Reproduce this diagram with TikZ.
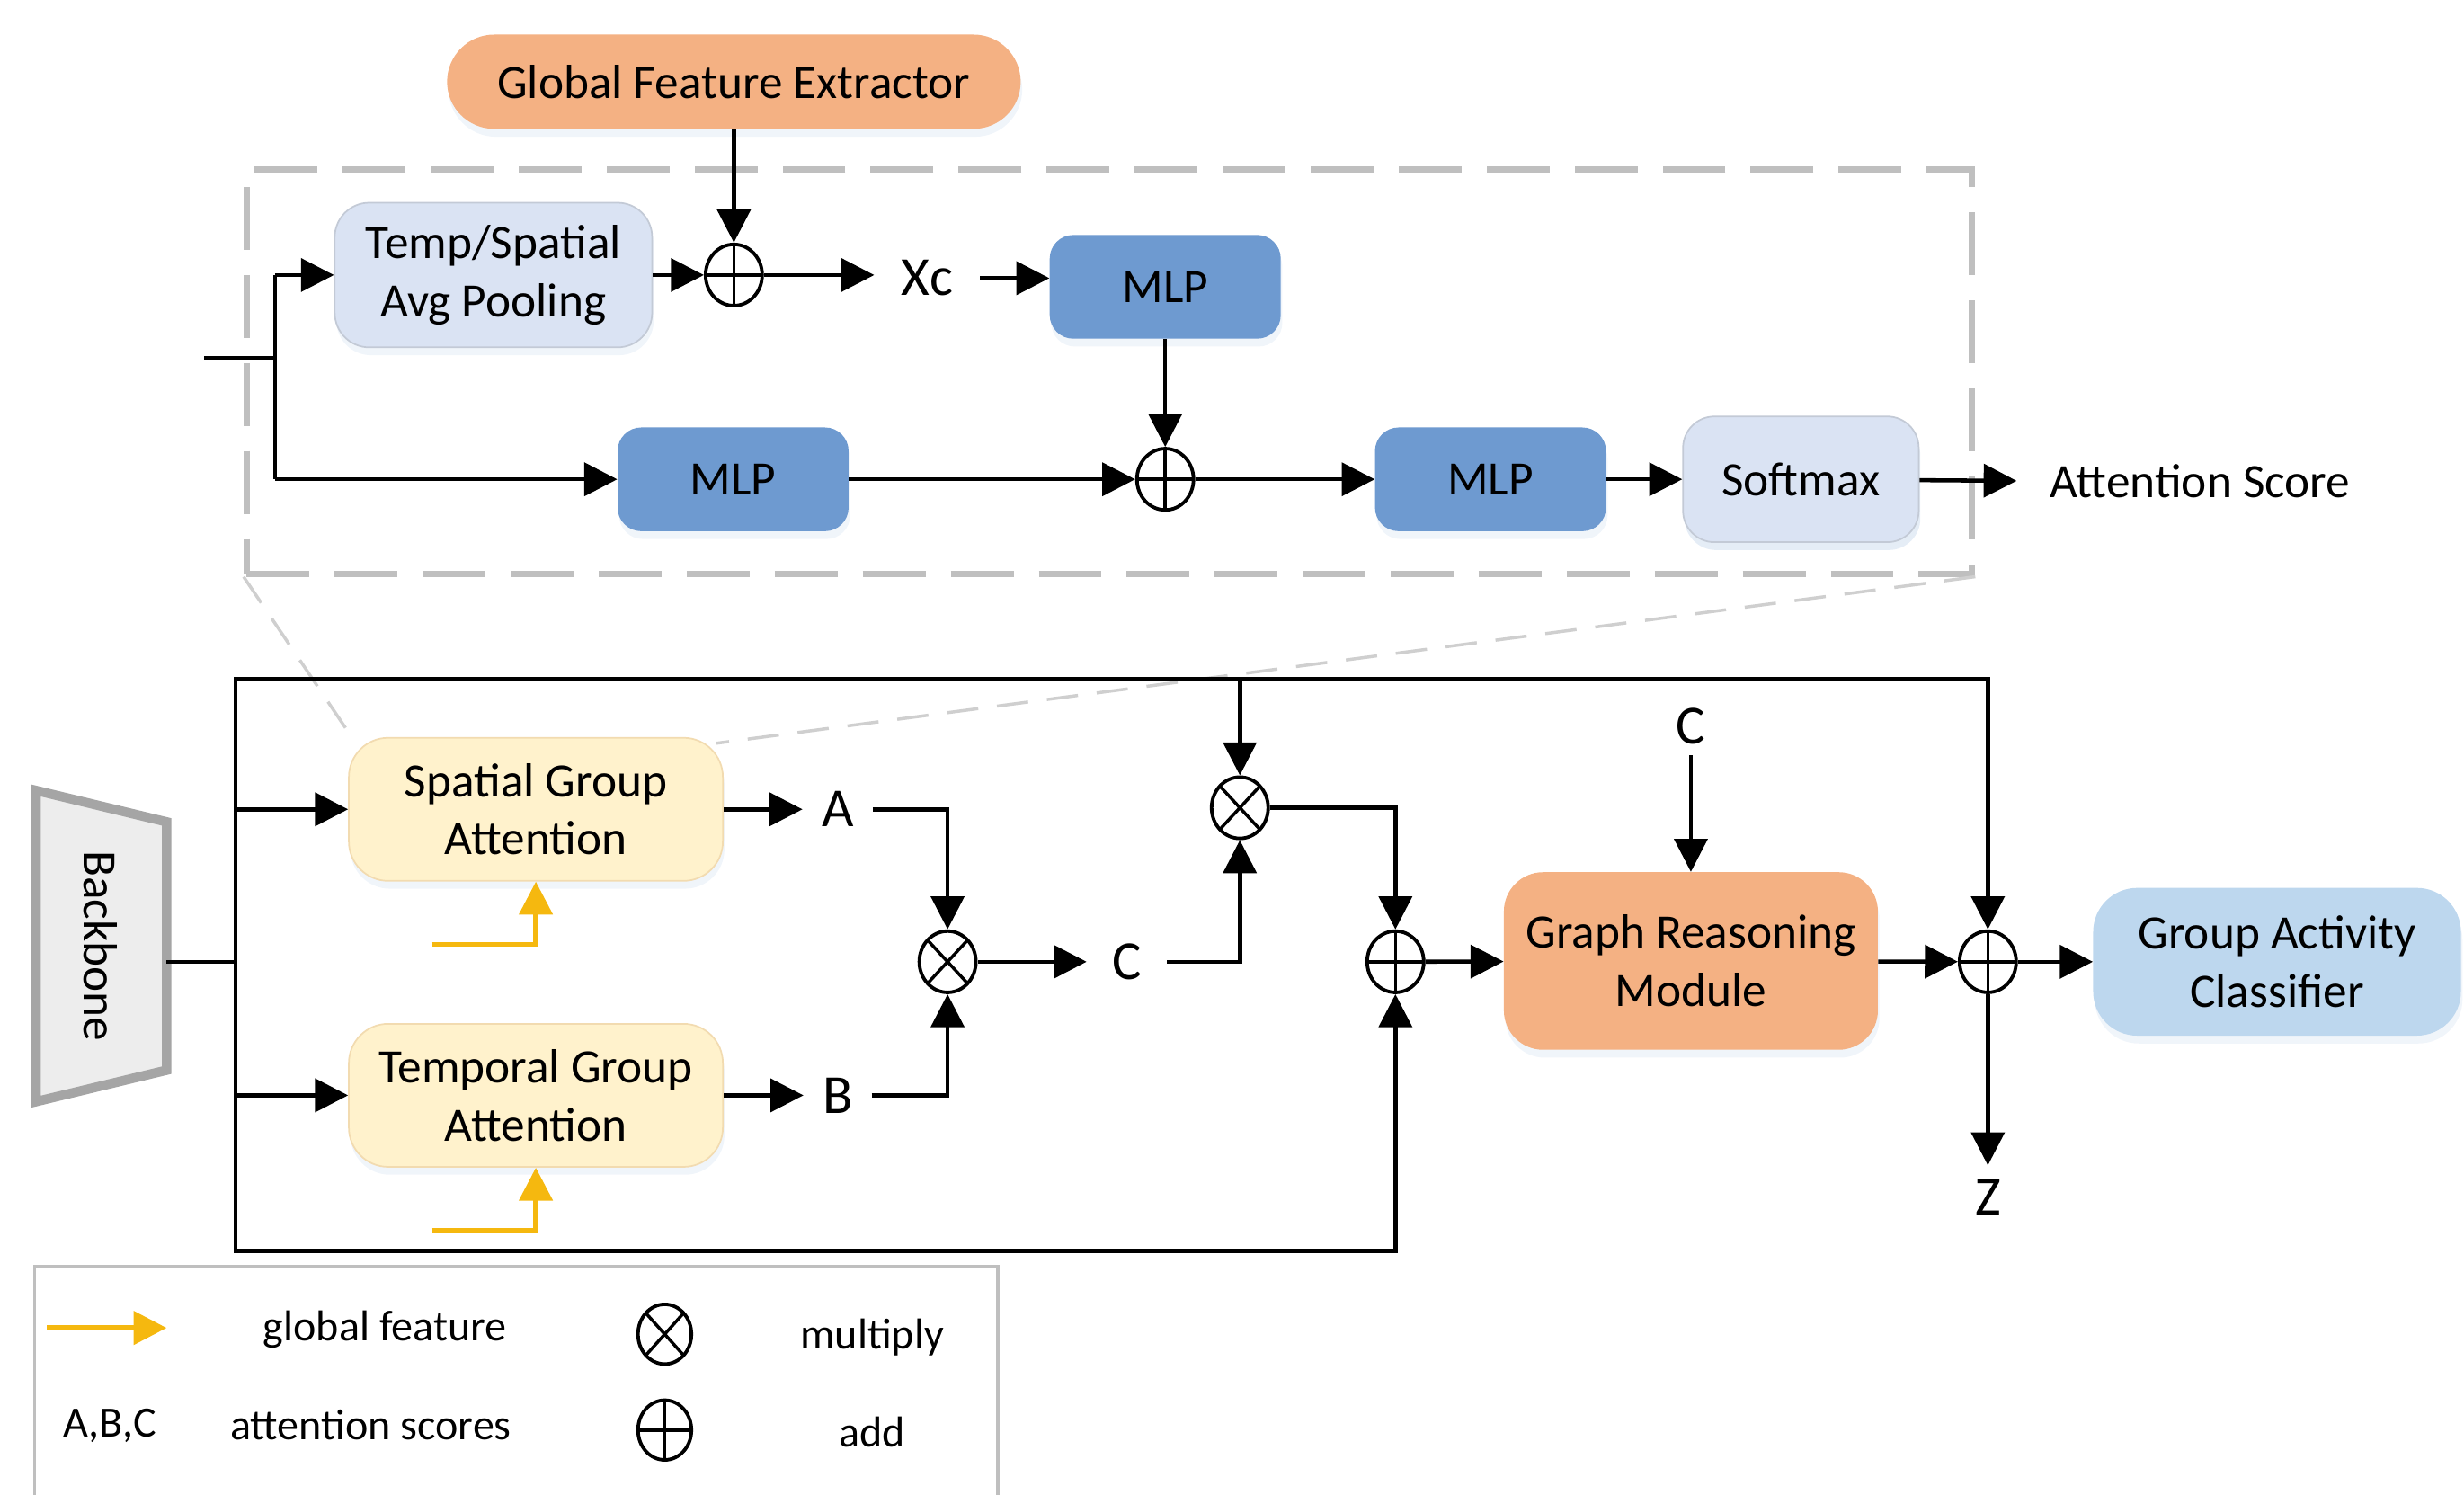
\documentclass[tikz,border=0pt]{standalone}
\usepackage{fontspec}
\setmainfont{Carlito}
\usepackage{xcolor}
\usetikzlibrary{arrows.meta,positioning,calc,shapes.geometric,shadows}
\definecolor{OrangeBox}{HTML}{F4B183}
\definecolor{MlpBlue}{HTML}{6E9AD0}
\definecolor{PaleBlue}{HTML}{DAE3F3}
\definecolor{PaleYellow}{HTML}{FFF2CC}
\definecolor{SkyBlue}{HTML}{BDD7EE}
\definecolor{GoldArrow}{HTML}{F5B80F}
\definecolor{FrameGray}{HTML}{BFBFBF}
\definecolor{BackGray}{HTML}{EDEDED}
\definecolor{BackRim}{HTML}{A5A5A5}

\tikzset{
  blk/.style={rounded corners=#1, align=center, inner sep=0pt,
    font=\fontsize{30.5}{37}\selectfont,
    drop shadow={shadow xshift=1pt, shadow yshift=-5pt, opacity=0.2, fill=MlpBlue!50}},
  blk/.default=20pt,
  mlp/.style={blk=15pt, fill=MlpBlue, minimum width=147pt, minimum height=66pt},
  pale/.style={blk=22pt, fill=PaleBlue, draw=PaleBlue!75!gray, line width=1pt},
  attn/.style={blk=25pt, fill=PaleYellow, draw=PaleYellow!80!brown, line width=1pt,
    minimum width=238pt, minimum height=91pt},
  sym/.style={ellipse, draw, line width=2.2pt, minimum width=36pt, minimum height=39pt,
    inner sep=0pt, fill=white},
  oplus/.style={sym, path picture={
    \draw[line width=2pt] (path picture bounding box.north) -- (path picture bounding box.south)
      (path picture bounding box.west) -- (path picture bounding box.east);}},
  otimes/.style={sym, path picture={
    \draw[line width=2pt]
      ($(path picture bounding box.north east)!0.1464!(path picture bounding box.south west)$) --
      ($(path picture bounding box.south west)!0.1464!(path picture bounding box.north east)$)
      ($(path picture bounding box.north west)!0.1464!(path picture bounding box.south east)$) --
      ($(path picture bounding box.south east)!0.1464!(path picture bounding box.north west)$);}},
  lbl/.style={font=\fontsize{35}{40}\selectfont, inner sep=#1},
  lbl/.default=12pt,
  legtxt/.style={font=\fontsize{27.5}{32}\selectfont, inner sep=2pt},
  wire/.style={line width=2.6pt},
  arr/.style={wire, -{Triangle[length=21pt,width=21pt]}},
  garr/.style={line width=3.2pt, GoldArrow, -{Triangle[length=21pt,width=21pt]}},
  zoomline/.style={FrameGray!75, line width=2pt, dash pattern=on 20pt off 12pt},
}

\begin{document}
\begin{tikzpicture}[x=1pt,y=-1pt]
  \useasboundingbox (0,0) rectangle (1568,951);

  % zoom-in frame of the attention block
  \node[draw=FrameGray, line width=4pt, dash pattern=on 40pt off 16pt,
        minimum width=1098pt, minimum height=257pt] (zoom) at (706,236.5) {};

  % upper detail
  \node[blk=30pt, fill=OrangeBox, minimum width=365pt, minimum height=60pt] (gfe) at (467,52) {Global Feature Extractor};
  \node[pale, minimum width=202pt, minimum height=92pt] (pool) at (314,175) {Temp/Spatial\\Avg Pooling};
  \node[oplus] (plusA) at (467,175) {};
  \node[lbl=17pt] (xc) at (590,177) {Xc};
  \node[mlp] (mlpA) at (741.5,182.5) {MLP};
  \node[mlp] (mlpB) at (466.5,305) {MLP};
  \node[oplus] (plusB) at (741.5,305) {};
  \node[mlp] (mlpC) at (948.5,305) {MLP};
  \node[pale, blk=20pt, minimum width=150pt, minimum height=80pt] (soft) at (1146,305) {Softmax};
  \node[font=\fontsize{30.5}{37}\selectfont, inner sep=21pt] (score) at (1400,306) {Attention Score};
  \coordinate (zin) at (130,228);
  \coordinate (zsplit) at (175,228);

  \draw[wire] (zin) -- (zsplit);
  \draw[wire] (zsplit |- pool) -- (zsplit |- mlpB);
  \draw[arr] (zsplit |- pool) -- (pool.west);
  \draw[arr] (zsplit |- mlpB) -- (mlpB.west);
  \draw[arr] (gfe) -- (plusA);
  \draw[arr] (pool) -- (plusA);
  \draw[arr] (plusA) -- (plusA -| xc.west);
  \draw[arr] (xc.east) -- (xc.east -| mlpA.west);
  \draw[arr] (mlpA) -- (plusB);
  \draw[arr] (mlpB) -- (plusB);
  \draw[arr] (plusB) -- (mlpC);
  \draw[arr] (mlpC) -- (soft);
  \draw[arr] (soft) -- (score.west);

  % lower pipeline
  \node[attn] (sga) at (341,515) {Spatial Group\\Attention};
  \node[attn] (tga) at (341,697) {Temporal Group\\Attention};

  \draw[zoomline] (zoom.south west) -- ([shift={(5pt,-4pt)}]sga.north west);
  \draw[zoomline] (zoom.south east) -- ([shift={(-5pt,-4pt)}]sga.north east);

  \draw[BackRim, fill=BackGray, line width=6pt, line join=miter]
    (23,503) -- (106,523) -- (106,681) -- (23,701) -- cycle;
  \node[rotate=-90, font=\fontsize{30.5}{37}\selectfont] (bb) at (64,602) {Backbone};
  \coordinate (bbout) at (106,612);
  \coordinate (j0) at (150,612);
  \coordinate (jt) at (150,432);
  \coordinate (jb) at (150,796);

  \node[lbl] (la) at (533,515) {A};
  \node[lbl] (lb) at (533,697) {B};
  \node[otimes] (mulA) at (603,612) {};
  \node[lbl=16pt] (lc) at (717,612) {C};
  \node[otimes] (mulB) at (789,514) {};
  \node[oplus] (addA) at (888,612) {};
  \node[blk=25pt, fill=OrangeBox, minimum width=238pt, minimum height=113pt] (grm) at (1076,611.5) {Graph Reasoning\\Module};
  \node[lbl=7pt] (lc2) at (1076,462) {C};
  \node[oplus] (addB) at (1265,612) {};
  \node[blk=28pt, fill=SkyBlue, minimum width=234pt, minimum height=94pt] (gac) at (1449,612) {Group Activity\\Classifier};
  \node[lbl=9pt] (lz) at (1265,762) {Z};

  \draw[wire] (bbout) -- (j0);
  \draw[arr] (j0) -- (jt) -| (addB);
  \draw[arr] (j0) -- (jb) -| (addA);
  \draw[arr] (jt -| mulB) -- (mulB);
  \draw[arr] (j0 |- sga) -- (sga.west);
  \draw[arr] (j0 |- tga) -- (tga.west);
  \draw[arr] (sga) -- (la);
  \draw[arr] (tga) -- (lb);
  \draw[arr] (la) -| (mulA);
  \draw[arr] (lb) -| (mulA);
  \draw[arr] (mulA) -- (lc);
  \draw[arr] (lc) -| (mulB);
  \draw[arr] (mulB) -| (addA);
  \draw[arr] (addA) -- (grm);
  \draw[arr] (lc2) -- (grm);
  \draw[arr] (grm) -- (addB);
  \draw[arr] (addB) -- (gac);
  \draw[arr] (addB) -- (lz);

  % global feature inputs
  \coordinate (gs) at (275,601);
  \coordinate (gt) at (275,783);
  \draw[garr] (gs) -| (sga.south);
  \draw[garr] (gt) -| (tga.south);

  % legend
  \node[draw=FrameGray, line width=2pt, minimum width=613pt, minimum height=152pt] (legend) at (328.5,882) {};
  \coordinate (lg1) at (30,845);
  \coordinate (lg2) at (106,845);
  \draw[garr] (lg1) -- (lg2);
  \node[legtxt] (lgf) at (245,846) {global feature};
  \node[legtxt] (labc) at (70,907) {A,B,C};
  \node[legtxt] (lat) at (236,907) {attention scores};
  \node[otimes, minimum width=34pt, minimum height=38pt] (legmul) at (423,849) {};
  \node[oplus, minimum width=34pt, minimum height=38pt] (legadd) at (423,910) {};
  \node[legtxt] (lmul) at (555,851) {multiply};
  \node[legtxt] (ladd) at (555,911) {add};
\end{tikzpicture}
\end{document}
